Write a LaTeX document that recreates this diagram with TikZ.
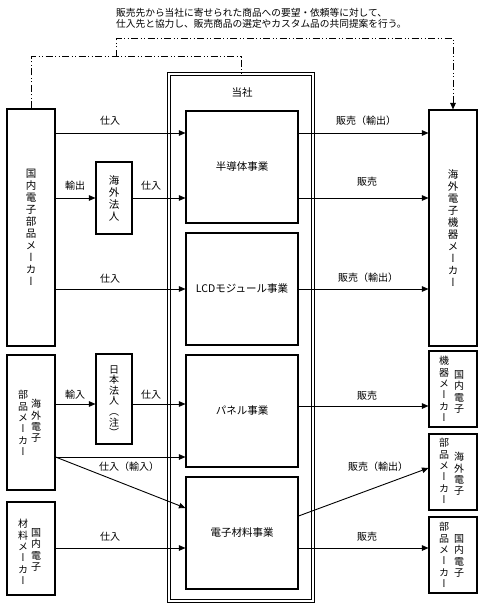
\documentclass[tikz,border=0pt]{standalone}
\usepackage{fontspec}
\setmainfont{Noto Sans CJK JP}
\newfontfamily\vjp[RawFeature={+vert}]{Noto Sans CJK JP}
\usetikzlibrary{arrows.meta}
\begin{document}
\begin{tikzpicture}[x=1pt,y=-1pt,
  box/.style={draw, line width=1.1pt, inner sep=0pt, rectangle},
  lbl/.style={font=\fontsize{10}{11}\selectfont, inner sep=0pt},
  bizlbl/.style={font=\fontsize{10.5}{12}\selectfont, inner sep=0pt},
  vt/.style={font=\vjp\fontsize{10}{11.3}\selectfont, align=center, inner sep=0pt},
  vtl/.style={font=\vjp\fontsize{10.5}{12}\selectfont, align=center, inner sep=0pt},
  arr/.style={-{Triangle[length=6.5pt,width=5.5pt]}, line width=0.9pt},
  dd/.style={line width=1pt, dash pattern=on 7pt off 2.5pt on 1pt off 2.5pt on 1pt off 2.5pt}]
\useasboundingbox (0,0) rectangle (483,607);

% top note
\node[anchor=west, align=left, font=\fontsize{9.7}{11}\selectfont, inner sep=0pt] (note) at (116,18.5)
  {販売先から当社に寄せられた商品への要望・依頼等に対して、\\仕入先と協力し、販売商品の選定やカスタム品の共同提案を行う。};

% company block
\node[draw, double, double distance=2.4pt, line width=0.9pt, inner sep=0pt,
      minimum width=144pt, minimum height=527pt] (co) at (241,337.5) {};
\node[bizlbl] (coT) at (242,93) {当社};
\node[box, minimum width=112pt, minimum height=112pt] (semi) at (242,167) {};
\node[bizlbl] (semiT) at (semi) {半導体事業};
\node[box, minimum width=112pt, minimum height=112pt] (lcd) at (242,289) {};
\node[bizlbl] (lcdT) at (lcd) {LCDモジュール事業};
\node[box, minimum width=112pt, minimum height=112pt] (panel) at (242,411) {};
\node[bizlbl] (panelT) at (panel) {パネル事業};
\node[box, minimum width=112pt, minimum height=112pt] (mat) at (242,533) {};
\node[bizlbl] (matT) at (mat) {電子材料事業};

% left side
\node[box, minimum width=48pt, minimum height=237pt] (dmaker) at (31,227.5) {};
\node[vtl] (dmakerT) at (dmaker) {国\\内\\電\\子\\部\\品\\メ\\ー\\カ\\ー};
\node[box, minimum width=36pt, minimum height=72pt] (ko) at (114,198) {};
\node[vtl] (koT) at (ko) {海\\外\\法\\人};
\node[box, minimum width=48pt, minimum height=135pt] (om) at (31,422.5) {};
\node[vt] (omA) at (36,421) {海\\外\\電\\子};
\node[vt] (omB) at (23,423) {部\\品\\メ\\ー\\カ\\ー};
\node[box, minimum width=36pt, minimum height=90pt] (jh) at (114,399) {};
\node[vt, font=\vjp\fontsize{10}{10.6}\selectfont] (jhT) at (114,401) {日\\本\\法\\人\\（\\注\\）};
\node[box, minimum width=48pt, minimum height=93pt] (mm) at (31,548.5) {};
\node[vt] (mmA) at (36,550) {国\\内\\電\\子};
\node[vt] (mmB) at (23,552) {材\\料\\メ\\ー\\カ\\ー};

% right side
\node[box, minimum width=48pt, minimum height=236pt] (rm) at (453,228) {};
\node[vtl] (rmT) at (rm) {海\\外\\電\\子\\機\\器\\メ\\ー\\カ\\ー};
\node[box, minimum width=48pt, minimum height=76pt] (r1) at (453,389) {};
\node[vt] (r1A) at (459,392) {国\\内\\電\\子};
\node[vt] (r1B) at (444,389) {機\\器\\メ\\ー\\カ\\ー};
\node[box, minimum width=48pt, minimum height=76pt] (r2) at (453,472) {};
\node[vt] (r2A) at (459,474) {海\\外\\電\\子};
\node[vt] (r2B) at (444,471) {部\\品\\メ\\ー\\カ\\ー};
\node[box, minimum width=48pt, minimum height=76pt] (r3) at (453,555) {};
\node[vt] (r3A) at (459,556) {国\\内\\電\\子};
\node[vt] (r3B) at (444,555) {部\\品\\メ\\ー\\カ\\ー};

% dash-dot-dot coordination lines
\coordinate (branch) at (116,57);
\draw[dd] (dmaker.north) -- (dmaker.north |- branch) -- (co.north |- branch) -- (co.north);
\draw[dd, -{Triangle[length=6.5pt,width=5.5pt]}] (branch) -- (116,39) -- (rm.north |- 0,39) -- (rm.north);

% purchases (left)
\draw[arr] (dmaker.east |- 0,133) -- (semi.west |- 0,133);
\node[lbl] (a1) at (110,121) {仕入};
\draw[arr] (dmaker.east |- ko) -- (ko.west);
\node[lbl] (a2) at (75,186) {輸出};
\draw[arr] (ko.east) -- (semi.west |- ko);
\node[lbl] (a3) at (151,186) {仕入};
\draw[arr] (dmaker.east |- lcd) -- (lcd.west);
\node[lbl] (a4) at (110,279) {仕入};
\draw[arr] (om.east |- 0,404) -- (jh.west |- 0,404);
\node[lbl] (a5) at (75,395) {輸入};
\draw[arr] (jh.east |- 0,404) -- (panel.west |- 0,404);
\node[lbl] (a6) at (151,395) {仕入};
\coordinate (split) at (om.east |- 0,457);
\draw[arr] (split) -- (panel.west |- split);
\draw[arr] (split) -- (mat.west |- 0,508);
\node[lbl] (a7) at (129,467) {仕入（輸入）};
\draw[arr] (mm.east |- 0,548) -- (mat.west |- 0,548);
\node[lbl] (a8) at (110,537) {仕入};

% sales (right)
\draw[arr] (semi.east |- 0,133) -- (rm.west |- 0,133);
\node[lbl] (b1) at (366,121) {販売（輸出）};
\draw[arr] (semi.east |- ko) -- (rm.west |- ko);
\node[lbl] (b2) at (367,182) {販売};
\draw[arr] (lcd.east) -- (rm.west |- lcd);
\node[lbl] (b3) at (368,278) {販売（輸出）};
\draw[arr] (panel.east |- 0,406) -- (r1.west |- 0,406);
\node[lbl] (b4) at (367,396) {販売};
\draw[arr] (mat.east |- 0,516) -- (r2.west |- 0,468);
\node[lbl] (b5) at (378,467) {販売（輸出）};
\draw[arr] (mat.east |- 0,548) -- (r3.west |- 0,548);
\node[lbl] (b6) at (367,537) {販売};
\end{tikzpicture}
\end{document}
